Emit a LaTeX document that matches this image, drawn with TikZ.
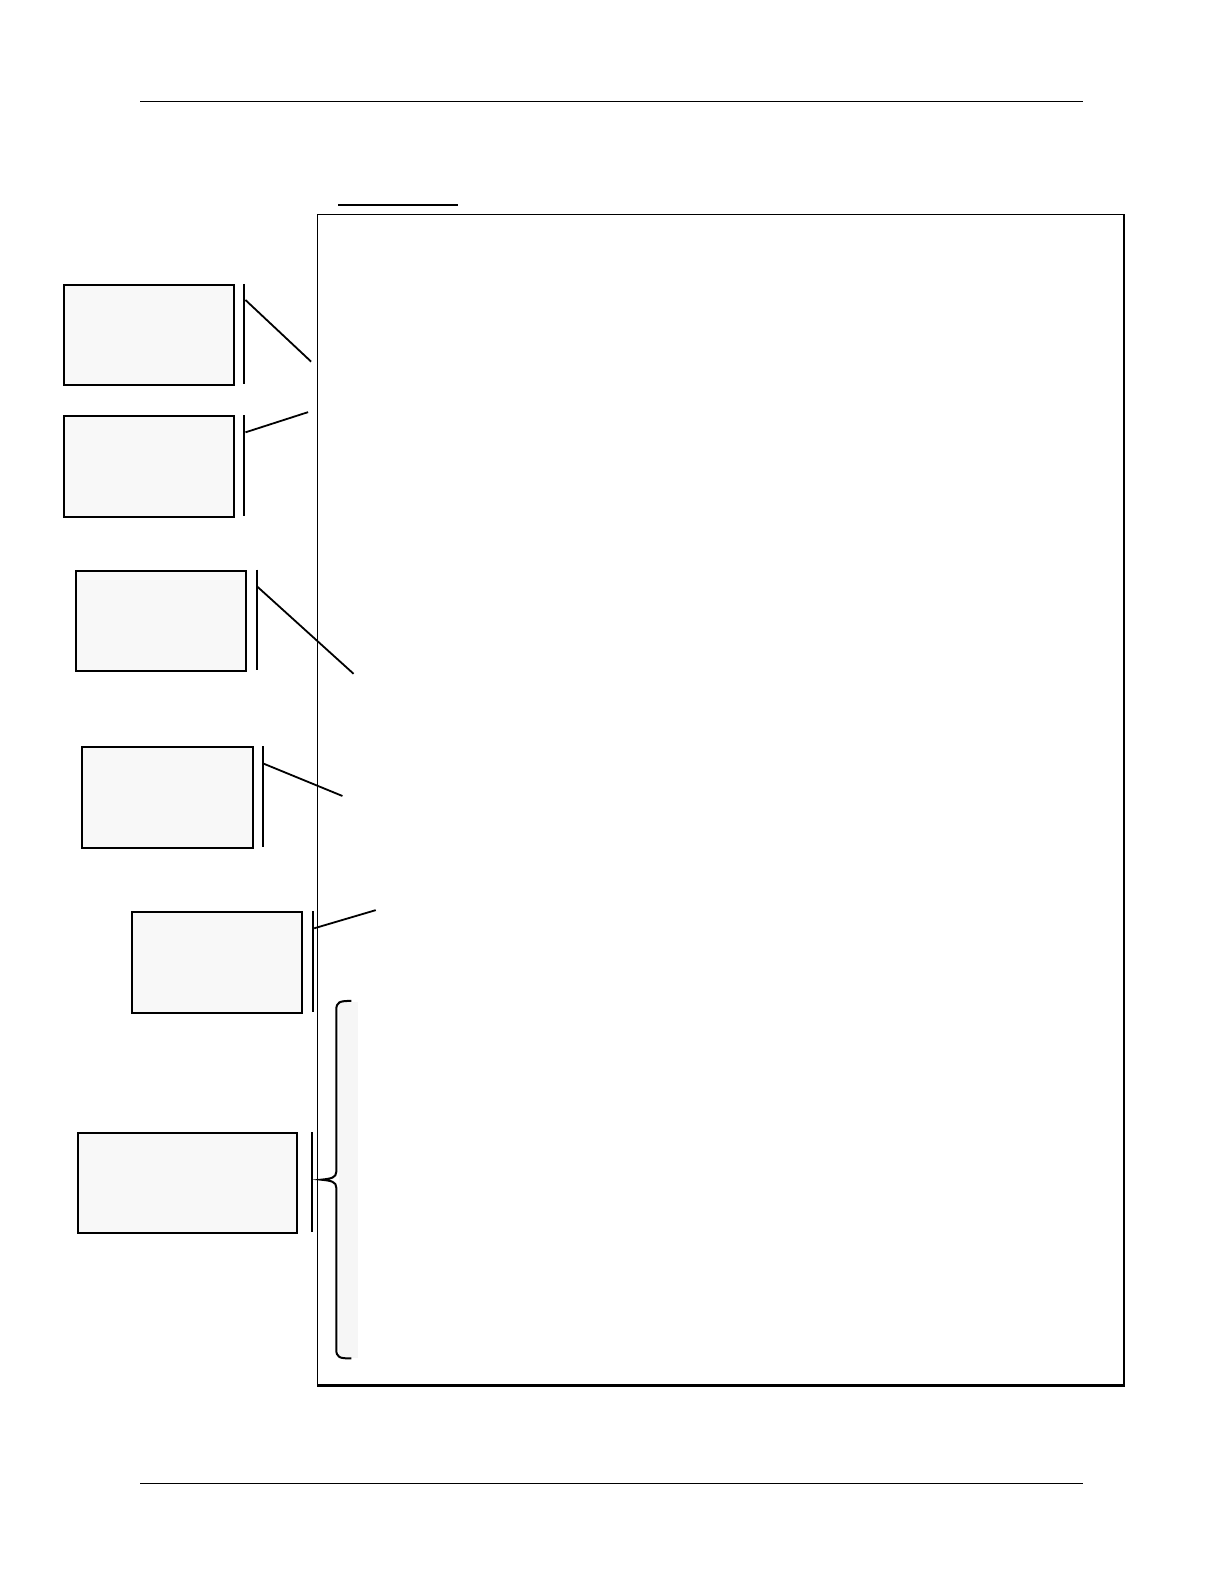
\documentclass[tikz,border=0pt]{standalone}
\begin{document}
\begin{tikzpicture}[x=0.5pt,y=-0.5pt,
  callbox/.style={draw=black,line width=1pt,fill=boxgray,rectangle,inner sep=0pt,anchor=north west},
  barline/.style={draw=black,line width=1pt},
  leader/.style={draw=black,line width=0.9pt},
  rule/.style={draw=black,line width=0.5pt}]
\definecolor{boxgray}{HTML}{F8F8F8}
\definecolor{stripgray}{HTML}{F6F6F6}
\useasboundingbox[fill=white] (0,0) rectangle (1224,1584);
\begin{scope}[scale=1.01,transform shape]
% header and footer rules
\coordinate (hl) at (139,100); \coordinate (hr) at (1072,100);
\draw[rule] (hl) -- (hr);
\coordinate (fl) at (139,1469); \coordinate (fr) at (1072,1469);
\draw[rule] (fl) -- (fr);
% short underline
\coordinate (ul) at (335,203); \coordinate (ur) at (453,203);
\draw[line width=0.75pt] (ul) -- (ur);
% main page frame with shadow
\node[draw=black,line width=0.5pt,fill=white,rectangle,inner sep=0pt,anchor=north west,
  minimum width=399.5pt,minimum height=580pt] (frame) at (313.5,211.5) {};
\draw[line width=1.25pt] (1113,212) -- (1113,1372) -- (314,1372);
% grey strip next to brace
\fill[stripgray] (336,992) rectangle (354,1345);
% brace
\draw[line width=1pt] (348,991) .. controls (336,991) and (333,992) .. (333,1000)
  -- (333,1160) .. controls (333,1166) and (328,1167) .. (318,1168)
  .. controls (328,1169) and (333,1170) .. (333,1176)
  -- (333,1336) .. controls (333,1344) and (336,1345) .. (348,1345);
% boxes
\node[callbox,minimum width=84.5pt,minimum height=49.5pt] (b1) at (62,281) {};
\node[callbox,minimum width=84.5pt,minimum height=50pt] (b2) at (62,411) {};
\node[callbox,minimum width=84.5pt,minimum height=49.5pt] (b3) at (74,564) {};
\node[callbox,minimum width=84.5pt,minimum height=50pt] (b4) at (80,739) {};
\node[callbox,minimum width=84pt,minimum height=50pt] (b5) at (130,902) {};
\node[callbox,minimum width=108.5pt,minimum height=49.5pt] (b6) at (76,1121) {};
% bars
\draw[barline] (242,281) -- (242,380);
\draw[barline] (242,411) -- (242,511);
\draw[barline] (254,564) -- (254,663);
\draw[barline] (260,739) -- (260,839);
\draw[barline] (310,902) -- (310,1002);
\draw[barline] (309,1121) -- (309,1220);
% leaders
\coordinate (s1) at (243,297); \coordinate (e1) at (308,358);
\coordinate (s2) at (243,428); \coordinate (e2) at (305,408);
\coordinate (s3) at (255,581); \coordinate (e3) at (350,667);
\coordinate (s4) at (261,756); \coordinate (e4) at (339,788);
\coordinate (s5) at (311,919); \coordinate (e5) at (372,901);
\draw[leader] (s1) -- (e1);
\draw[leader] (s2) -- (e2);
\draw[leader] (s3) -- (e3);
\draw[leader] (s4) -- (e4);
\draw[leader] (s5) -- (e5);
\end{scope}
\end{tikzpicture}
\end{document}
